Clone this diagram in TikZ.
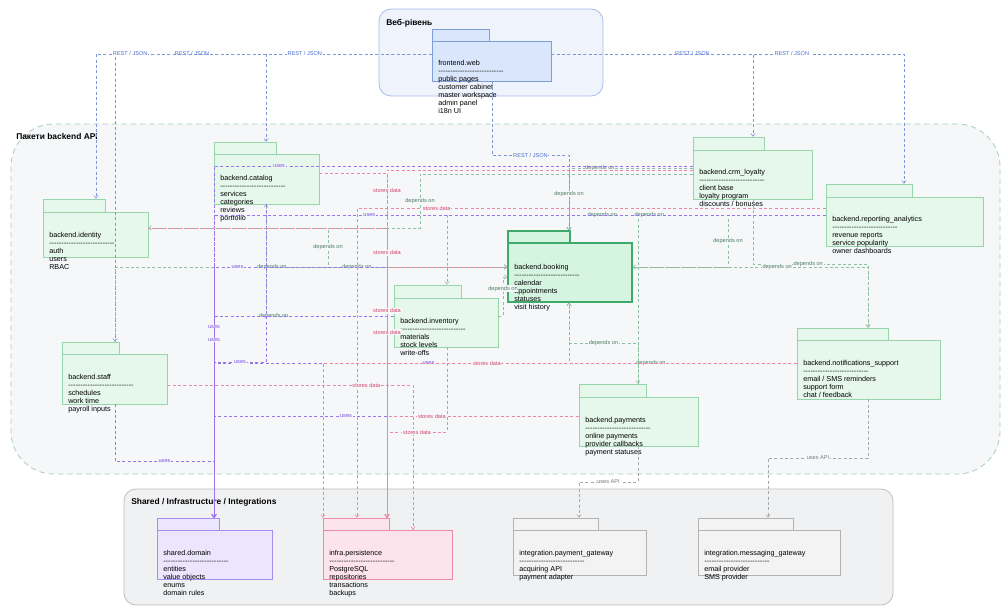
\documentclass[tikz,border=0pt]{standalone}
\usepackage{fontspec}
\setmainfont{Liberation Sans}
\usetikzlibrary{arrows.meta,fit}

\definecolor{webgrpfill}{HTML}{EEF3FC}
\definecolor{webgrpline}{HTML}{A6BDE8}
\definecolor{apigrpfill}{HTML}{F5F7F9}
\definecolor{apigrpline}{HTML}{A9CFB9}
\definecolor{shgrpfill}{HTML}{F0F1F3}
\definecolor{shgrpline}{HTML}{BDBDBD}
\definecolor{webpkgfill}{HTML}{DAE6FB}
\definecolor{webpkgline}{HTML}{7D9FD8}
\definecolor{grnpkgfill}{HTML}{E6F8EB}
\definecolor{grnpkgline}{HTML}{97D5AB}
\definecolor{corepkgfill}{HTML}{D6F5E1}
\definecolor{corepkgline}{HTML}{3DAA6B}
\definecolor{lilpkgfill}{HTML}{EBE5FD}
\definecolor{lilpkgline}{HTML}{A88DF0}
\definecolor{rosepkgfill}{HTML}{FDE3EC}
\definecolor{rosepkgline}{HTML}{EC8AAA}
\definecolor{graypkgfill}{HTML}{F3F3F4}
\definecolor{graypkgline}{HTML}{B3B3B3}
\definecolor{restcol}{HTML}{7C98DA}
\definecolor{resttxt}{HTML}{4A6FD1}
\definecolor{depcol}{HTML}{8CC0A0}
\definecolor{deptxt}{HTML}{4D7C61}
\definecolor{usecol}{HTML}{9A73EF}
\definecolor{usetxt}{HTML}{7B4FE0}
\definecolor{storecol}{HTML}{EF86A6}
\definecolor{storetxt}{HTML}{D2466F}
\definecolor{apicol}{HTML}{A8A8A8}
\definecolor{apitxt}{HTML}{7A7A7A}

\newcommand\dashrow{\hbox to 49pt{\xleaders\hbox{-}\hfill}}

\tikzset{
  group/.style={inner sep=0, line width=0.6pt},
  grptitle/.style={font=\bfseries\fontsize{6.3}{7}\selectfont, inner sep=0, anchor=west},
  pkg/.style={draw=#1line, fill=#1fill, inner sep=0, line width=0.5pt},
  pkgtxt/.style={anchor=north west, align=left, inner sep=0,
    font=\fontsize{5.4}{6}\selectfont, text=black},
  link/.style={->, line width=0.45pt, dash pattern=on 2.2pt off 1.8pt},
  rest/.style={link, draw=restcol},
  dep/.style={link, draw=depcol},
  uses/.style={link, draw=usecol},
  store/.style={link, draw=storecol},
  api/.style={link, draw=apicol},
  lbl/.style={font=\fontsize{4.2}{4.5}\selectfont, inner sep=0.5pt, fill=apigrpfill},
  rlbl/.style={lbl, text=resttxt, fill=white},
  dlbl/.style={lbl, text=deptxt},
  ulbl/.style={lbl, text=usetxt},
  slbl/.style={lbl, text=storetxt},
  albl/.style={lbl, text=apitxt},
}

\begin{document}
\begin{tikzpicture}[x=0.75pt, y=-0.75pt, >={Straight Barb[length=2pt,width=3.2pt]}]
  \useasboundingbox[fill=white] (0,0) rectangle (1003,606);

  % групи
  \node[group, fill=webgrpfill, draw=webgrpline, rounded corners=9pt, fit={(379,9)(603,96)}] (webgrp) {};
  \node[grptitle] (webtitle) at (386,23) {Веб-рівень};
  \node[group, fill=apigrpfill, draw=apigrpline, dash pattern=on 4pt off 3pt, rounded corners=32pt,
    fit={(11,124)(1000,474)}] (apigrp) {};
  \node[grptitle] (apititle) at (16,136) {Пакети backend API};
  \node[group, fill=shgrpfill, draw=shgrpline, rounded corners=9pt, fit={(124,489)(893,605)}] (shgrp) {};
  \node[grptitle] (shtitle) at (131,502) {Shared / Infrastructure / Integrations};

  % frontend.web
  \node[pkg=webpkg, fit={(432,29)(489,41)}] (webtab) {};
  \node[pkg=webpkg, fit={(432,41)(551,81)}] (web) {};
  \node[pkgtxt] (webtxt) at (438,60) {frontend.web\\\dashrow\\public pages\\customer cabinet\\master workspace\\admin panel\\i18n UI};

  % backend.identity
  \node[pkg=grnpkg, fit={(43,199)(105,212)}] (identitytab) {};
  \node[pkg=grnpkg, fit={(43,212)(148,257)}] (identity) {};
  \node[pkgtxt] (identitytxt) at (49,232) {backend.identity\\\dashrow\\auth\\users\\RBAC};

  % backend.catalog
  \node[pkg=grnpkg, fit={(214,142)(276,154)}] (catalogtab) {};
  \node[pkg=grnpkg, fit={(214,154)(319,204)}] (catalog) {};
  \node[pkgtxt] (catalogtxt) at (220,175) {backend.catalog\\\dashrow\\services\\categories\\reviews\\portfolio};

  % backend.crm_loyalty
  \node[pkg=grnpkg, fit={(693,137)(764,150)}] (crmtab) {};
  \node[pkg=grnpkg, fit={(693,150)(812,199)}] (crm) {};
  \node[pkgtxt] (crmtxt) at (699,169) {backend.crm\_loyalty\\\dashrow\\client base\\loyalty program\\discounts / bonuses};

  % backend.reporting_analytics
  \node[pkg=grnpkg, fit={(826,184)(912,197)}] (reportingtab) {};
  \node[pkg=grnpkg, fit={(826,197)(983,246)}] (reporting) {};
  \node[pkgtxt] (reportingtxt) at (832,216) {backend.reporting\_analytics\\\dashrow\\revenue reports\\service popularity\\owner dashboards};

  % backend.booking
  \node[pkg=corepkg, line width=0.9pt, fit={(508,231)(570,243)}] (bookingtab) {};
  \node[pkg=corepkg, line width=0.9pt, fit={(508,243)(632,302)}] (booking) {};
  \node[pkgtxt] (bookingtxt) at (514,264) {backend.booking\\\dashrow\\calendar\\appointments\\statuses\\visit history};

  % backend.inventory
  \node[pkg=grnpkg, fit={(394,285)(461,298)}] (inventorytab) {};
  \node[pkg=grnpkg, fit={(394,298)(498,347)}] (inventory) {};
  \node[pkgtxt] (inventorytxt) at (400,318) {backend.inventory\\\dashrow\\materials\\stock levels\\write-offs};

  % backend.staff
  \node[pkg=grnpkg, fit={(62,342)(119,354)}] (stafftab) {};
  \node[pkg=grnpkg, fit={(62,354)(167,404)}] (staff) {};
  \node[pkgtxt] (stafftxt) at (68,374) {backend.staff\\\dashrow\\schedules\\work time\\payroll inputs};

  % backend.payments
  \node[pkg=grnpkg, fit={(579,384)(646,397)}] (paymentstab) {};
  \node[pkg=grnpkg, fit={(579,397)(698,446)}] (payments) {};
  \node[pkgtxt] (paymentstxt) at (585,417) {backend.payments\\\dashrow\\online payments\\provider callbacks\\payment statuses};

  % backend.notifications_support
  \node[pkg=grnpkg, fit={(797,328)(888,340)}] (notifytab) {};
  \node[pkg=grnpkg, fit={(797,340)(940,399)}] (notify) {};
  \node[pkgtxt] (notifytxt) at (803,360) {backend.notifications\_support\\\dashrow\\email / SMS reminders\\support form\\chat / feedback};

  % shared.domain
  \node[pkg=lilpkg, fit={(157,518)(219,530)}] (domaintab) {};
  \node[pkg=lilpkg, fit={(157,530)(272,579)}] (domain) {};
  \node[pkgtxt] (domaintxt) at (163,550) {shared.domain\\\dashrow\\entities\\value objects\\enums\\domain rules};

  % infra.persistence
  \node[pkg=rosepkg, fit={(323,518)(389,530)}] (persisttab) {};
  \node[pkg=rosepkg, fit={(323,530)(452,579)}] (persist) {};
  \node[pkgtxt] (persisttxt) at (329,550) {infra.persistence\\\dashrow\\PostgreSQL\\repositories\\transactions\\backups};

  % integration.payment_gateway
  \node[pkg=graypkg, fit={(513,518)(598,530)}] (paygwtab) {};
  \node[pkg=graypkg, fit={(513,530)(646,575)}] (paygw) {};
  \node[pkgtxt] (paygwtxt) at (519,550) {integration.payment\_gateway\\\dashrow\\acquiring API\\payment adapter};

  % integration.messaging_gateway
  \node[pkg=graypkg, fit={(698,518)(793,530)}] (msggwtab) {};
  \node[pkg=graypkg, fit={(698,530)(840,575)}] (msggw) {};
  \node[pkgtxt] (msggwtxt) at (704,550) {integration.messaging\_gateway\\\dashrow\\email provider\\SMS provider};

  % REST / JSON
  \draw[rest] (web.west |- 0,54) -| node[rlbl,pos=0.357]{REST / JSON} (identitytab.north -| 96,0);
  \draw[rest] (web.west |- 0,54) -| node[rlbl,pos=0.476]{REST / JSON} (stafftab.north -| 115,0);
  \draw[rest] (web.west |- 0,54) -| node[rlbl,pos=0.383]{REST / JSON} (catalogtab.north -| 266,0);
  \draw[rest] (web.east |- 0,54) -| node[rlbl,pos=0.35]{REST / JSON} (crmtab.north -| 753,0);
  \draw[rest] (web.east |- 0,54) -| node[rlbl,pos=0.341]{REST / JSON} (reportingtab.north -| 904,0);
  \draw[rest] (web.south -| 492,0) -- (492,155) -- node[rlbl,fill=apigrpfill]{REST / JSON} (569,155) -- (bookingtab.north -| 569,0);

  % depends on
  \draw[dep] (crm.west |- 0,168) -| node[dlbl,pos=0.375]{depends on} node[dlbl,pos=0.71]{depends on} (bookingtab.north -| 569,0);
  \draw[dep] (crm.west |- 0,174) -- (420,174) -- node[dlbl]{depends on} (420,228) -- (identity.east |- 0,228);
  \draw[dep] (stafftab.north -| 115,0) |- node[dlbl,pos=0.70]{depends on} (booking.west |- 0,267);
  \draw[dep] (identity.east |- 0,228) -- (328,228) -- node[dlbl]{depends on} (328,267) -- (booking.west |- 0,267);
  \draw[dep] (catalog.south -| 266,0) |- node[dlbl,pos=0.688]{depends on} (booking.west |- 0,267);
  \draw[dep] (inventory.west |- 0,316) -| node[dlbl,pos=0.47]{depends on} (catalog.south -| 266,0);
  \draw[dep] (paymentstab.north -| 638,0) -- (638,343) -- node[dlbl]{depends on} (569,343) -- (booking.south -| 569,0);
  \draw[dep] (notify.west |- 0,363) -| node[dlbl,pos=0.32]{depends on} (booking.south -| 569,0);
  \draw[dep] (reporting.west |- 0,215) -| node[dlbl,pos=0.47]{depends on} (paymentstab.north -| 638,0);
  \draw[dep] (reporting.west |- 0,215) -| node[dlbl,pos=0.295]{depends on} (inventorytab.north -| 447,0);
  \draw[dep] (reporting.west |- 0,215) -- (728,215) -- node[dlbl]{depends on} (728,267) -- (booking.east |- 0,267);
  \draw[dep] (crm.south -| 753,0) -- (753,264) -- node[dlbl,pos=0.48]{depends on} (868,264) -- (notifytab.north -| 868,0);
  \draw[dep] (booking.east |- 0,267) -| node[dlbl,pos=0.307]{depends on} (notifytab.north -| 868,0);
  \draw[dep] (inventory.east |- 0,316) -- (503,316) -- node[dlbl,pos=0.7]{depends on} (503,277) -- (booking.west |- 0,277);

  % uses -> shared.domain
  \draw[uses] (reporting.west |- 0,215) -| node[ulbl,pos=0.373]{uses} (domaintab.north -| 214,0);
  \draw[uses] (crm.west |- 0,166) -| node[ulbl,pos=0.432]{uses} (domaintab.north -| 214,0);
  \draw[uses] (booking.west |- 0,267) -| node[ulbl,pos=0.46]{uses} (domaintab.north -| 214,0);
  \draw[uses] (notify.west |- 0,363) -| node[ulbl,pos=0.316]{uses} (domaintab.north -| 214,0);
  \draw[uses] (payments.west |- 0,416) -| node[ulbl,pos=0.319]{uses} (domaintab.north -| 214,0);
  \draw[uses] (staff.south -| 115,0) -- (115,461) -- node[ulbl]{uses} (214,461) -- (domaintab.north -| 214,0);
  \draw[uses] (catalog.south -| 266,0) -- (266,362) -- node[ulbl]{uses} (214,362) -- (domaintab.north -| 214,0);
  \draw[uses] (inventory.west |- 0,316) -| node[ulbl,pos=0.527]{uses} (domaintab.north -| 214,0);
  \draw[uses] (identity.east |- 0,228) -| node[ulbl,pos=0.693]{uses} (domaintab.north -| 214,0);

  % stores data -> infra.persistence
  \draw[store] (crm.west |- 0,170) -| node[slbl,pos=0.529]{stores data} (persisttab.north -| 387,0);
  \draw[store] (reporting.west |- 0,208) -| node[slbl,pos=0.415]{stores data} (persisttab.north -| 357,0);
  \draw[store] (notify.west |- 0,363) -| node[slbl,pos=0.327]{stores data} (persisttab.north -| 323,0);
  \draw[store] (staff.east |- 0,385) -| node[slbl,pos=0.405]{stores data} (persist.north -| 413,0);
  \draw[store] (payments.west |- 0,416) -| node[slbl,pos=0.383]{stores data} (persisttab.north -| 387,0);
  \draw[store] (inventory.south -| 447,0) -- (447,432) -- node[slbl]{stores data} (387,432) -- (persisttab.north -| 387,0);
  \draw[store] (booking.west |- 0,267) -| node[slbl,pos=0.63]{stores data} (persisttab.north -| 387,0);
  \draw[store] (catalog.east |- 0,173) -| node[slbl,pos=0.70]{stores data} (persisttab.north -| 387,0);
  \draw[store] (identity.east |- 0,228) -| node[slbl,pos=0.543]{stores data} (persisttab.north -| 387,0);

  % uses API
  \draw[api] (payments.south -| 638,0) -- (638,482) -- node[albl,fill=white]{uses API} (579,482) -- (paygwtab.north -| 579,0);
  \draw[api] (notify.south -| 868,0) -- (868,458) -- node[albl]{uses API} (768,458) -- (msggwtab.north -| 768,0);
\end{tikzpicture}
\end{document}
